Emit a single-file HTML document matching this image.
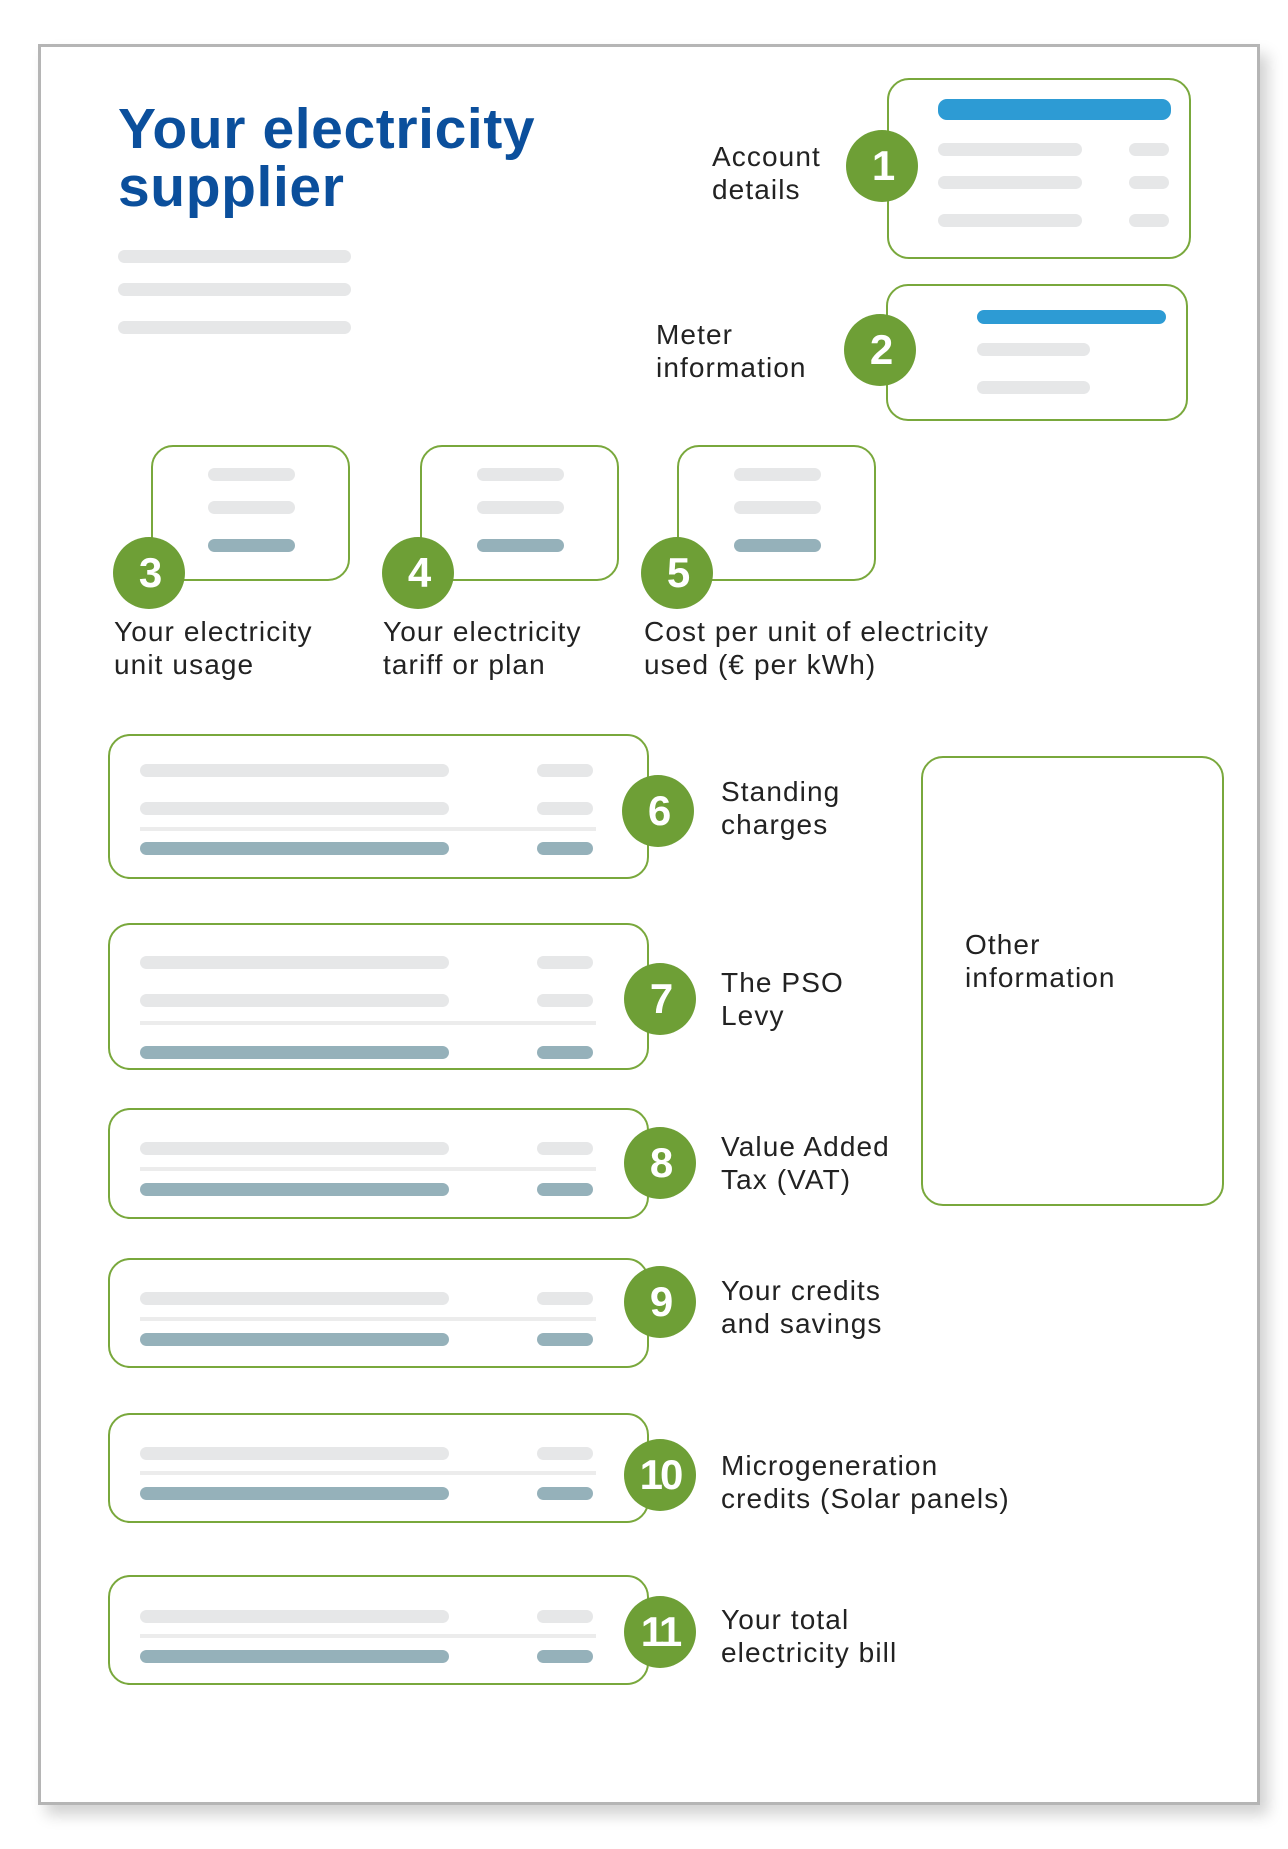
<!DOCTYPE html>
<html><head><meta charset="utf-8"><style>
*{margin:0;padding:0;box-sizing:border-box}
body{width:1288px;height:1849px;background:#fff;position:relative;overflow:hidden;font-family:"Liberation Sans",sans-serif}
.a{position:absolute}
.page{left:38px;top:44px;width:1222px;height:1761px;border:3px solid #b5b5b5;box-shadow:8px 10px 14px rgba(0,0,0,.18);background:#fff}
.box{position:absolute;border:2px solid #79a83c;border-radius:22px;background:#fff}
.c{position:absolute;width:72px;height:72px;border-radius:50%;background:#6e9f36;color:#fff;font-weight:bold;font-size:42px;text-align:center;line-height:72px;letter-spacing:-3px}
.g{position:absolute;background:#e6e7e8;border-radius:7px;height:13px}
.s{position:absolute;background:#95b1ba;border-radius:7px;height:13px}
.b{position:absolute;background:#2d9bd4;border-radius:9px}
.l{position:absolute;background:#ececec;height:4px}
.t{position:absolute;font-size:28px;line-height:33px;color:#222;white-space:nowrap;letter-spacing:1.1px}
</style></head><body>
<div class="a page"></div>
<div class="t" style="left:118px;top:100px;font-size:57px;line-height:58px;font-weight:bold;color:#0b4f9c;letter-spacing:0.6px">Your electricity<br>supplier</div>
<div class="g" style="left:118px;top:250px;width:233px"></div>
<div class="g" style="left:118px;top:283px;width:233px"></div>
<div class="g" style="left:118px;top:321px;width:233px"></div>

<div class="box" style="left:887px;top:78px;width:304px;height:181px"></div>
<div class="b" style="left:938px;top:99px;width:233px;height:21px"></div>
<div class="g" style="left:938px;top:143px;width:144px"></div><div class="g" style="left:1129px;top:143px;width:40px"></div>
<div class="g" style="left:938px;top:176px;width:144px"></div><div class="g" style="left:1129px;top:176px;width:40px"></div>
<div class="g" style="left:938px;top:214px;width:144px"></div><div class="g" style="left:1129px;top:214px;width:40px"></div>
<div class="c" style="left:846px;top:130px">1</div>
<div class="t" style="left:712px;top:140px">Account<br>details</div>

<div class="box" style="left:886px;top:284px;width:302px;height:137px"></div>
<div class="b" style="left:977px;top:310px;width:189px;height:14px"></div>
<div class="g" style="left:977px;top:343px;width:113px"></div>
<div class="g" style="left:977px;top:381px;width:113px"></div>
<div class="c" style="left:844px;top:314px">2</div>
<div class="t" style="left:656px;top:318px">Meter<br>information</div>

<div class="box" style="left:151px;top:445px;width:199px;height:136px"></div>
<div class="g" style="left:208px;top:468px;width:87px"></div><div class="g" style="left:208px;top:501px;width:87px"></div><div class="s" style="left:208px;top:539px;width:87px"></div>
<div class="c" style="left:113px;top:537px">3</div>
<div class="t" style="left:114px;top:615px">Your electricity<br>unit usage</div>

<div class="box" style="left:420px;top:445px;width:199px;height:136px"></div>
<div class="g" style="left:477px;top:468px;width:87px"></div><div class="g" style="left:477px;top:501px;width:87px"></div><div class="s" style="left:477px;top:539px;width:87px"></div>
<div class="c" style="left:382px;top:537px">4</div>
<div class="t" style="left:383px;top:615px">Your electricity<br>tariff or plan</div>

<div class="box" style="left:677px;top:445px;width:199px;height:136px"></div>
<div class="g" style="left:734px;top:468px;width:87px"></div><div class="g" style="left:734px;top:501px;width:87px"></div><div class="s" style="left:734px;top:539px;width:87px"></div>
<div class="c" style="left:641px;top:537px">5</div>
<div class="t" style="left:644px;top:615px">Cost per unit of electricity<br>used (€ per kWh)</div>

<div class="box" style="left:108px;top:734px;width:541px;height:145px"></div>
<div class="g" style="left:140px;top:764px;width:309px"></div><div class="g" style="left:537px;top:764px;width:56px"></div>
<div class="g" style="left:140px;top:802px;width:309px"></div><div class="g" style="left:537px;top:802px;width:56px"></div>
<div class="l" style="left:140px;top:827px;width:456px"></div>
<div class="s" style="left:140px;top:842px;width:309px"></div><div class="s" style="left:537px;top:842px;width:56px"></div>
<div class="c" style="left:622px;top:775px">6</div>
<div class="t" style="left:721px;top:775px">Standing<br>charges</div>

<div class="box" style="left:108px;top:923px;width:541px;height:147px"></div>
<div class="g" style="left:140px;top:956px;width:309px"></div><div class="g" style="left:537px;top:956px;width:56px"></div>
<div class="g" style="left:140px;top:994px;width:309px"></div><div class="g" style="left:537px;top:994px;width:56px"></div>
<div class="l" style="left:140px;top:1021px;width:456px"></div>
<div class="s" style="left:140px;top:1046px;width:309px"></div><div class="s" style="left:537px;top:1046px;width:56px"></div>
<div class="c" style="left:624px;top:963px">7</div>
<div class="t" style="left:721px;top:966px">The PSO<br>Levy</div>

<div class="box" style="left:108px;top:1108px;width:541px;height:111px"></div>
<div class="g" style="left:140px;top:1142px;width:309px"></div><div class="g" style="left:537px;top:1142px;width:56px"></div>
<div class="l" style="left:140px;top:1167px;width:456px"></div>
<div class="s" style="left:140px;top:1183px;width:309px"></div><div class="s" style="left:537px;top:1183px;width:56px"></div>
<div class="c" style="left:624px;top:1127px">8</div>
<div class="t" style="left:721px;top:1130px">Value Added<br>Tax (VAT)</div>

<div class="box" style="left:108px;top:1258px;width:541px;height:110px"></div>
<div class="g" style="left:140px;top:1292px;width:309px"></div><div class="g" style="left:537px;top:1292px;width:56px"></div>
<div class="l" style="left:140px;top:1317px;width:456px"></div>
<div class="s" style="left:140px;top:1333px;width:309px"></div><div class="s" style="left:537px;top:1333px;width:56px"></div>
<div class="c" style="left:624px;top:1266px">9</div>
<div class="t" style="left:721px;top:1274px">Your credits<br>and savings</div>

<div class="box" style="left:108px;top:1413px;width:541px;height:110px"></div>
<div class="g" style="left:140px;top:1447px;width:309px"></div><div class="g" style="left:537px;top:1447px;width:56px"></div>
<div class="l" style="left:140px;top:1471px;width:456px"></div>
<div class="s" style="left:140px;top:1487px;width:309px"></div><div class="s" style="left:537px;top:1487px;width:56px"></div>
<div class="c" style="left:624px;top:1439px">10</div>
<div class="t" style="left:721px;top:1449px">Microgeneration<br>credits (Solar panels)</div>

<div class="box" style="left:108px;top:1575px;width:541px;height:110px"></div>
<div class="g" style="left:140px;top:1610px;width:309px"></div><div class="g" style="left:537px;top:1610px;width:56px"></div>
<div class="l" style="left:140px;top:1634px;width:456px"></div>
<div class="s" style="left:140px;top:1650px;width:309px"></div><div class="s" style="left:537px;top:1650px;width:56px"></div>
<div class="c" style="left:624px;top:1596px">11</div>
<div class="t" style="left:721px;top:1603px">Your total<br>electricity bill</div>

<div class="box" style="left:921px;top:756px;width:303px;height:450px"></div>
<div class="t" style="left:965px;top:928px">Other<br>information</div>
</body></html>
